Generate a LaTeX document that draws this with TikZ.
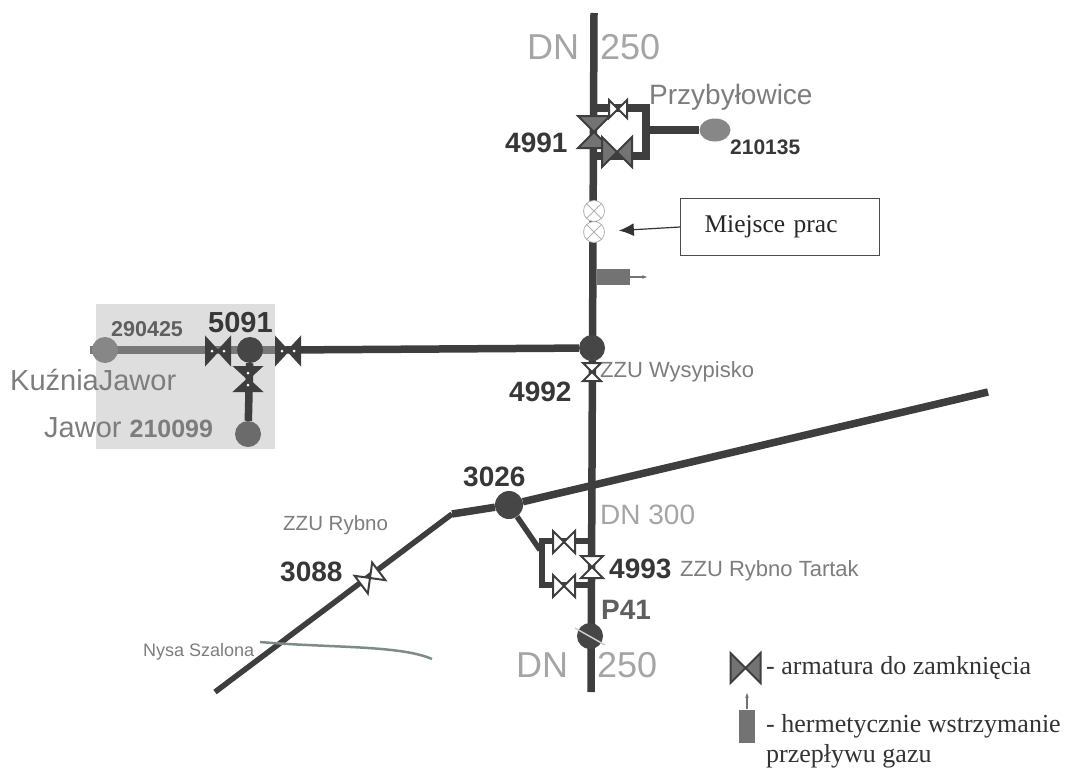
\documentclass[tikz,border=0pt]{standalone}
\usepackage{fontspec}
\setmainfont{Liberation Serif}
\setsansfont{Liberation Sans}
\usetikzlibrary{arrows.meta, backgrounds, shapes.geometric}
\definecolor{pipeDk}{RGB}{62,62,62}
\definecolor{pipeGr}{RGB}{120,120,120}
\definecolor{ballGr}{RGB}{135,135,135}
\definecolor{ballDk}{RGB}{70,70,70}
\definecolor{vlvGr}{RGB}{115,115,115}
\definecolor{zoneBg}{RGB}{222,222,222}
\definecolor{txtGr}{RGB}{125,125,125}
\definecolor{txtDn}{RGB}{165,165,165}
\definecolor{txtDk}{RGB}{55,55,55}
\definecolor{riverGr}{RGB}{125,140,135}
\tikzset{
  every node/.style={font=\sffamily, inner sep=0pt},
  PIPE/.style={draw=pipeDk, line width=7.5pt},
  THIN/.style={draw=pipeDk, line width=5.5pt},
  VLV/.style={draw=pipeDk, line width=2pt, line join=miter},
  BALL/.style={circle, fill=ballDk, minimum size=26pt},
  END/.style={circle, fill=ballGr, minimum size=26pt},
  WORK/.style={circle, draw=black!30, fill=white, minimum size=21pt, line width=0.8pt},
  NUM/.style={anchor=west, text=txtDk, font=\sffamily\bfseries\fontsize{28}{30}\selectfont},
  SUB/.style={anchor=west, text=txtDk, font=\sffamily\bfseries\fontsize{21}{23}\selectfont},
  NAME/.style={anchor=west, text=txtGr, font=\sffamily\fontsize{29}{31}\selectfont},
  ZZU/.style={anchor=west, text=txtGr, font=\sffamily\fontsize{22}{24}\selectfont},
  DN/.style={anchor=west, text=txtDn, font=\sffamily\fontsize{36}{38}\selectfont},
  LEG/.style={anchor=west, text=black!80, font=\rmfamily\fontsize{26}{28}\selectfont},
}
% name, x, y, rotation, half size, fill
\newcommand{\vlv}[6]{
  \begin{scope}[shift={(#2,#3)}, rotate=#4]
    \coordinate (#1) at (0,0);
    \draw[VLV, fill=#6] (-#5,-#5) -- (#5,#5) -- (#5,-#5) -- (-#5,#5) -- cycle;
  \end{scope}}
% same with the two white dots
\newcommand{\vlvd}[4]{
  \begin{scope}[shift={(#2,#3)}, rotate=#4]
    \coordinate (#1) at (0,0);
    \draw[VLV, fill=pipeDk] (-12,-13) -- (12,13) -- (12,-13) -- (-12,13) -- cycle;
    \fill[white] (-6,0) circle (1.5) (6,0) circle (1.5);
  \end{scope}}
\newcommand{\xmark}[1]{\draw[black!30, line width=0.8pt] (#1.north west) -- (#1.south east) (#1.north east) -- (#1.south west);}

\begin{document}
\begin{tikzpicture}[x=1pt, y=1pt, yscale=-1]
\useasboundingbox (0,0) rectangle (1067,768);

%% points on the pipes
\coordinate (mainT) at (594,13);
\coordinate (mainB) at (591,692);
\coordinate (brT) at (594,108);
\coordinate (brTR) at (646,108);
\coordinate (brB) at (594,156);
\coordinate (brBR) at (646,156);
\coordinate (brM) at (646,130);
\coordinate (westE) at (90,350);
\coordinate (grayE) at (285,350);
\coordinate (eastE) at (988,392);
\coordinate (kink) at (452,514);
\coordinate (southW) at (215,692);
\coordinate (byK) at (540,550);
\coordinate (byTL) at (542,541);
\coordinate (byTR) at (592,541);
\coordinate (byBL) at (542,585);
\coordinate (byBR) at (592,585);

%% junctions
\node[BALL] (J5091) at (250,350) {};
\node[BALL] (J4992) at (592,348) {};
\node[BALL, minimum size=28pt] (J3026) at (509,505) {};
\node[BALL] (P41) at (590,636) {};
\node[END] (E290425) at (105,350) {};
\node[END, fill=ballDk!80] (E210099) at (248,434) {};
\node[END, ellipse, minimum size=0pt, minimum width=31pt, minimum height=23pt] (E210135) at (715,130) {};

%% pipes
\begin{scope}[on background layer]
  \fill[zoneBg] (96,304) rectangle (275,449);
  \draw[PIPE] (mainT) -- (mainB);
  \draw[PIPE] (brT) -- (brTR) -- (brBR) -- (brB);
  \draw[PIPE] (brM) -- (E210135);
  \draw[PIPE, draw=pipeGr] (westE) -- (grayE);
  \draw[PIPE] (grayE) -- (J4992);
  \draw[PIPE] (J5091) -- (E210099);
  \draw[PIPE] (eastE) -- (J3026);
  \draw[PIPE] (J3026) -- (kink);
  \draw[THIN] (kink) -- (southW);
  \draw[THIN] (J3026) -- (byK);
  \draw[THIN] (byTR) -- (byTL) -- (byBL) -- (byBR);
\end{scope}
\draw[white!80!black, line width=1.5pt] (575,628) -- (605,645);

%% valves
\vlv{V4991}{594}{132}{90}{16}{vlvGr}
\vlv{V4991a}{618}{109}{0}{9}{white}
\vlv{V4991b}{617}{152}{0}{15}{vlvGr}
\vlvd{V5091a}{218}{351}{0}
\vlvd{V5091b}{288}{351}{0}
\vlvd{V5091c}{248}{379}{90}
\vlv{V4992}{592}{372}{90}{9}{white}
\vlv{V4993}{592}{567}{90}{11}{white}
\vlv{V4993a}{564}{542}{0}{11}{white}
\vlv{V4993b}{564}{586}{0}{11}{white}
\vlv{V3088}{370}{578}{-37}{11}{white}

%% work place
\node[WORK] (W1) at (594,211) {};
\node[WORK] (W2) at (594,232) {};
\xmark{W1}
\xmark{W2}
\node[draw=black!70, line width=0.8pt, text width=175pt, align=left, inner xsep=12pt, minimum height=57pt,
  font=\rmfamily\fontsize{25.5}{27}\selectfont, text=black!85] (BOX) at (780,227) {\hspace*{12pt}Miejsce prac};
\draw[-{Latex[length=15pt, width=13pt]}, black!80, line width=1.2pt, shorten >=14pt] (BOX.west) -- (W2);

%% stop plug on the main pipe
\node[fill=vlvGr, minimum width=33pt, minimum height=16pt] (PLUG) at (613,277) {};
\coordinate (plugE) at (647,277);
\draw[-{Stealth[length=5pt]}, vlvGr, line width=1.8pt] (PLUG.east) -- (plugE);

%% river
\draw[riverGr, line width=2.5pt] (260,642) .. controls (330,648) and (400,645) .. (432,659);
\node[ZZU, font=\sffamily\fontsize{18}{20}\selectfont] (NYSA) at (143,652) {Nysa Szalona};

%% labels
\node[DN] (DNa) at (527,47) {DN};
\node[DN] (DNb) at (600,47) {250};
\node[NAME, font=\sffamily\fontsize{28}{30}\selectfont] (PRZ) at (649,97) {Przybyłowice};
\node[SUB] (L210135) at (730,147) {210135};
\node[NUM] (L4991) at (505,143) {4991};
\node[ZZU] (WYS) at (600,372) {ZZU Wysypisko};
\node[NUM] (L4992) at (509,392) {4992};
\node[SUB, text=txtDk!80, font=\sffamily\bfseries\fontsize{21.5}{23}\selectfont] (L290425) at (111,329) {290425};
\node[NUM, font=\sffamily\bfseries\fontsize{29}{31}\selectfont] (L5091) at (208,323) {5091};
\node[NAME] (KUZ) at (10,380) {KuźniaJawor};
\node[NAME] (JAW) at (44,428) {Jawor {\bfseries\fontsize{25}{27}\selectfont 210099}};
\node[NUM] (L3026) at (463,477) {3026};
\node[DN, font=\sffamily\fontsize{28}{30}\selectfont] (DNc) at (600,515) {DN 300};
\node[NUM] (L4993) at (609,569) {4993};
\node[ZZU] (TAR) at (680,571) {ZZU Rybno Tartak};
\node[NUM, text=txtDk!80] (LP41) at (601,610) {P41};
\node[DN] (DNd) at (516,665) {DN};
\node[DN] (DNe) at (597,665) {250};
\node[ZZU, font=\sffamily\fontsize{20.5}{22}\selectfont] (RYB) at (283,525) {ZZU Rybno};
\node[NUM] (L3088) at (280,572) {3088};

%% legend
\vlv{KEYV}{745.5}{668}{0}{15}{vlvGr}
\node[LEG] (KEYa) at (766,668) {- armatura do zamknięcia};
\node[fill=vlvGr, minimum width=16pt, minimum height=33pt] (KEYP) at (747,726) {};
\coordinate (keyT) at (747,693);
\draw[-{Stealth[length=5pt]}, vlvGr, line width=2.5pt] (KEYP.north) -- (keyT);
\node[LEG] (KEYb) at (766,726) {- hermetycznie wstrzymanie};
\node[LEG] (KEYc) at (766,756) {przepływu gazu};

\end{tikzpicture}
\end{document}
